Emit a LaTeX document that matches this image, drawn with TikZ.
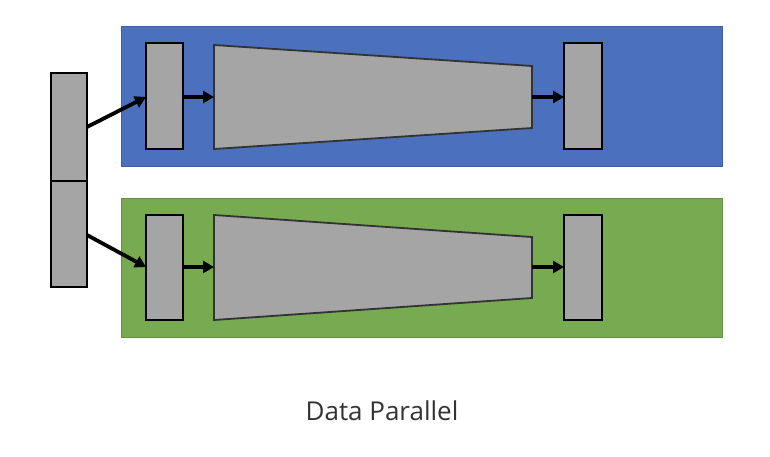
\documentclass[tikz,border=0pt]{standalone}
\usepackage{fontspec}
\setmainfont{Open Sans}
\usetikzlibrary{arrows.meta}
\definecolor{gpublue}{HTML}{4A70BE}
\definecolor{gpugreen}{HTML}{78AA52}
\definecolor{boxgray}{HTML}{A5A5A5}
\definecolor{txtgray}{HTML}{333333}
\tikzset{
  panel/.style={draw=#1!85!black, line width=0.6pt, fill=#1},
  layerbox/.style={draw=black, line width=2.4pt, fill=boxgray},
  trap/.style={draw=black!80, line width=1.8pt, fill=boxgray},
  flow/.style={line width=3.8pt, -{Triangle[length=11pt,width=12pt]}},
}
\begin{document}
\begin{tikzpicture}[x=1pt,y=-1pt]
\useasboundingbox (0,0) rectangle (770,456);
% panels
\draw[panel=gpublue] (121,26) rectangle (722,166);
\draw[panel=gpugreen] (121,198) rectangle (722,337);
% input batch (split)
\draw[layerbox] (51,73) rectangle (87,181);
\draw[layerbox] (51,181) rectangle (87,287);
\coordinate (inA) at (87,127);
\coordinate (inB) at (87,235);
% top replica
\draw[layerbox] (146,43) rectangle (183,149);
\coordinate (a1in) at (146,97);
\coordinate (a1out) at (183,97);
\draw[trap] (214,45) -- (532,66) -- (532,128) -- (214,149) -- cycle;
\coordinate (t1in) at (214,97);
\coordinate (t1out) at (532,97);
\draw[layerbox] (564,43) rectangle (602,149);
\coordinate (o1in) at (564,97);
% bottom replica
\draw[layerbox] (146,215) rectangle (183,320);
\coordinate (a2in) at (146,267);
\coordinate (a2out) at (183,267);
\draw[trap] (214,215) -- (532,237) -- (532,298) -- (214,320) -- cycle;
\coordinate (t2in) at (214,267);
\coordinate (t2out) at (532,267);
\draw[layerbox] (564,215) rectangle (602,320);
\coordinate (o2in) at (564,267);
% arrows
\draw[flow] (inA) -- (a1in);
\draw[flow] (inB) -- (a2in);
\draw[flow] (a1out) -- (t1in);
\draw[flow] (a2out) -- (t2in);
\draw[flow] (t1out) -- (o1in);
\draw[flow] (t2out) -- (o2in);
% caption
\node[text=txtgray, font=\fontsize{26}{31}\selectfont, inner sep=0pt] (cap) at (382,411) {Data Parallel};
\end{tikzpicture}
\end{document}
